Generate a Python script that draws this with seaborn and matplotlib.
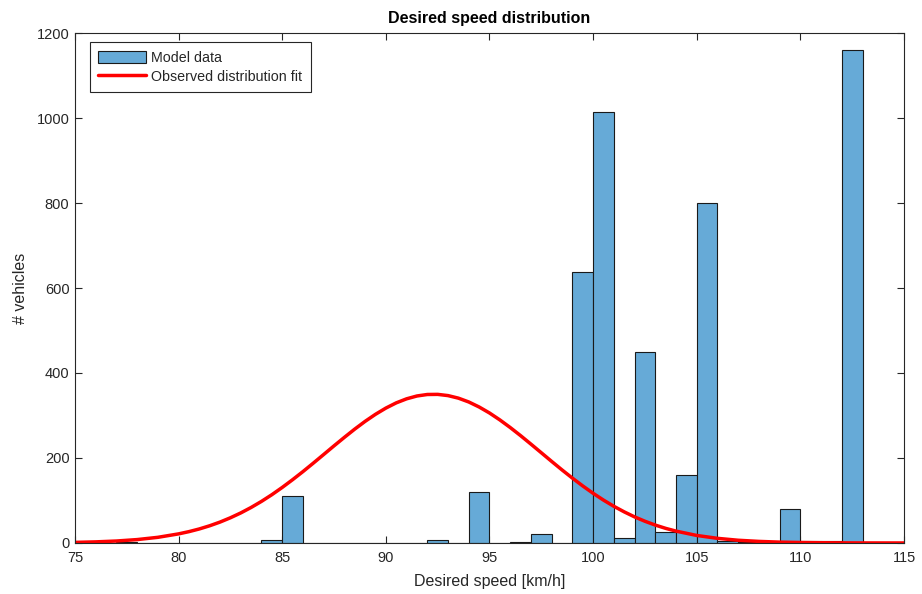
import numpy as np
import pandas as pd
import matplotlib
matplotlib.use("Agg")
import matplotlib.pyplot as plt
import seaborn as sns

# ---- data ----
bin_edges = list(range(75, 116))  # 1 km/h bins from 75 to 115
bin_counts = [0, 0, 2, 0, 0, 0, 0, 0, 0, 8,       # 75..84
              110, 0, 0, 0, 0, 0, 0, 6, 0, 120,   # 85..94
              0, 3, 20, 0, 638, 1015, 11, 450, 25, 160,  # 95..104
              800, 4, 2, 0, 79, 5, 5, 1160, 0, 0]  # 105..114

fit_x = [75, 76, 77, 78, 79, 80, 80.5, 81, 81.5, 82, 82.5, 83, 83.5, 84, 84.5,
         85, 85.5, 86, 86.5, 87, 87.5, 88, 88.5, 89, 89.5, 90, 90.5, 91, 91.5,
         92, 92.5, 93, 93.5, 94, 94.5, 95, 95.5, 96, 96.5, 97, 97.5, 98, 98.5,
         99, 99.5, 100, 100.5, 101, 101.5, 102, 102.5, 103, 103.5, 104, 105,
         106, 107, 108, 109, 110, 111, 112, 113, 114, 115]
fit_y = [1.4, 2.6, 4.6, 8.0, 13.3, 21.4, 26.7, 33.0, 40.5, 49.2, 59.3, 70.7, 83.6,
         97.9, 113.6, 130.7, 148.9, 168.0, 187.9, 208.2, 228.6, 248.6, 268.0,
         286.2, 302.8, 317.4, 329.7, 339.2, 345.9, 349.4, 349.7, 346.8, 340.8,
         331.8, 320.0, 305.9, 289.6, 271.7, 252.6, 232.6, 212.3, 191.9, 171.9,
         152.6, 134.2, 116.9, 100.9, 86.3, 73.2, 61.4, 51.1, 42.1, 34.4, 27.9,
         17.7, 10.9, 6.4, 3.7, 2.0, 1.1, 0.6, 0.3, 0.1, 0.05, 0.02]

x_ticks = [75, 80, 85, 90, 95, 100, 105, 110, 115]
y_ticks = [0, 200, 400, 600, 800, 1000, 1200]

sns.set_theme(style="white")
plt.rcParams['font.family'] = ['Liberation Sans', 'DejaVu Sans']

fig = plt.figure(figsize=(9.22, 5.94), dpi=100)
ax = fig.add_axes([0.0813, 0.0859, 0.8992, 0.8585])

centers = [e + 0.5 for e in bin_edges[:-1]]
df = pd.DataFrame({"speed": centers, "count": bin_counts})
sns.histplot(data=df, x="speed", weights="count", bins=bin_edges, ax=ax,
             color="#66AAD7", edgecolor="#1a1a1a", linewidth=0.8, alpha=1.0)

fit_df = pd.DataFrame({"x": fit_x, "y": fit_y})
sns.lineplot(data=fit_df, x="x", y="y", ax=ax, color="#FF0000", linewidth=2.5)

ax.set_xlim(75, 115)
ax.set_ylim(0, 1200)
ax.set_xticks(x_ticks)
ax.set_yticks(y_ticks)
txtc = "#262626"
ax.tick_params(direction="in", length=5, width=0.8, colors=txtc,
               labelsize=10.5, top=True, right=True, bottom=True, left=True,
               labelcolor=txtc)
ax.tick_params(axis="x", pad=6)
ax.tick_params(axis="y", pad=4)
for s in ax.spines.values():
    s.set_color(txtc)
    s.set_linewidth(0.8)
    s.set_visible(True)

ax.set_xlabel("Desired speed [km/h]", fontsize=11.5, color=txtc, labelpad=6)
ax.set_ylabel("# vehicles", fontsize=11.5, color=txtc, labelpad=6)
ax.set_title("Desired speed distribution", fontsize=11.5, fontweight="bold",
             color="black", pad=7)

handles = [ax.patches[0], ax.lines[0]]
leg = ax.legend(handles, ["Model data", "Observed distribution fit"],
                loc="upper left", bbox_to_anchor=(0.018, 0.982), fontsize=10.3,
                frameon=True, fancybox=False, edgecolor=txtc, framealpha=1,
                handlelength=3.3, handleheight=0.9, borderpad=0.6,
                labelspacing=0.35, handletextpad=0.4, borderaxespad=0)
leg.get_frame().set_linewidth(0.8)

fig.savefig("out.png", dpi=100)
